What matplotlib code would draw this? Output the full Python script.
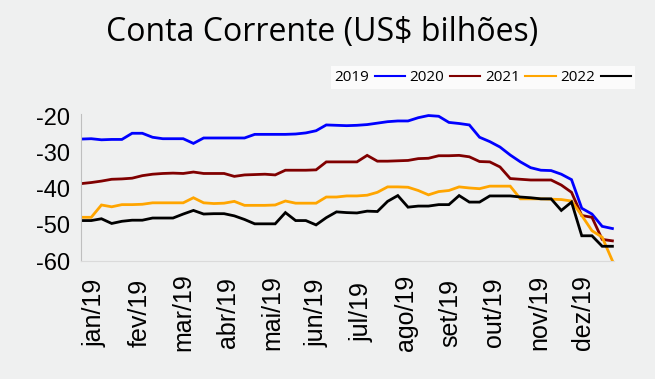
import numpy as np
import matplotlib
matplotlib.use('Agg')
import matplotlib.pyplot as plt

# --- data: weekly readings through 2019 (day of year) ---
days = np.arange(0, 365, 7)

s2019 = [-26.3, -26.2, -26.5, -26.4, -26.4, -24.7, -24.7, -25.8, -26.2, -26.2,
         -26.2, -27.5, -26.0, -26.0, -26.0, -26.0, -26.0, -25.0, -25.0, -25.0,
         -25.0, -24.9, -24.6, -24.0, -22.4, -22.5, -22.6, -22.5, -22.3, -21.9,
         -21.5, -21.3, -21.3, -20.4, -19.8, -20.0, -21.7, -22.0, -22.4, -25.8,
         -27.0, -28.5, -30.7, -32.6, -34.2, -34.9, -35.0, -36.0, -37.5, -45.4,
         -47.0, -50.4, -51.0]
s2020 = [-38.6, -38.3, -37.9, -37.4, -37.3, -37.1, -36.4, -36.0, -35.8, -35.7,
         -35.8, -35.4, -35.8, -35.8, -35.8, -36.6, -36.2, -36.1, -36.0, -36.2,
         -34.9, -34.9, -34.9, -34.8, -32.6, -32.6, -32.6, -32.6, -30.8, -32.4,
         -32.4, -32.3, -32.2, -31.7, -31.6, -30.9, -30.9, -30.8, -31.2, -32.5,
         -32.6, -34.0, -37.2, -37.4, -37.6, -37.6, -37.6, -39.0, -41.0, -47.4,
         -47.9, -54.0, -54.4]
s2021 = [-47.9, -47.9, -44.5, -45.0, -44.4, -44.4, -44.3, -43.9, -43.9, -43.9,
         -43.9, -42.5, -43.9, -44.1, -44.0, -43.5, -44.6, -44.6, -44.6, -44.5,
         -43.4, -44.0, -44.0, -44.0, -42.3, -42.3, -42.0, -42.0, -41.8, -41.0,
         -39.5, -39.5, -39.6, -40.5, -41.7, -40.8, -40.5, -39.5, -39.8, -40.0,
         -39.3, -39.3, -39.3, -42.8, -42.8, -42.8, -42.9, -43.0, -43.4, -47.4,
         -51.6, -53.4, -59.9]
s2022 = [-48.8, -48.8, -48.3, -49.6, -49.0, -48.7, -48.7, -48.1, -48.1, -48.1,
         -47.0, -46.0, -47.0, -46.9, -46.9, -47.5, -48.5, -49.7, -49.7, -49.7,
         -46.6, -48.8, -48.8, -50.0, -48.0, -46.4, -46.6, -46.7, -46.2, -46.3,
         -43.5, -41.9, -45.1, -44.8, -44.8, -44.4, -44.4, -41.9, -43.7, -43.7,
         -42.0, -42.0, -42.0, -42.3, -42.5, -42.8, -42.8, -46.0, -43.7, -53.0,
         -53.0, -55.9, -55.9]

series = {'2019': s2019, '2020': s2020, '2021': s2021, '2022': s2022}
colors = ['#0000ff', '#800000', '#ffa500', '#000000']

month_labels = ['jan/19', 'fev/19', 'mar/19', 'abr/19', 'mai/19', 'jun/19',
                'jul/19', 'ago/19', 'set/19', 'out/19', 'nov/19', 'dez/19']

bg = '#eff0f0'
fig = plt.figure(figsize=(6.55, 3.79), dpi=100, facecolor=bg)
ax = fig.add_axes([0.1237, 0.311, 0.8135, 0.388], facecolor=bg)

for (name, vals), c in zip(series.items(), colors):
    ax.plot(days, vals, color=c, lw=2.0, label=name, solid_joinstyle='miter')

ax.set_xlim(0, 365)
ax.set_ylim(-60, -19.4)
ax.set_yticks([-60, -50, -40, -30, -20])
ax.set_yticklabels(['-60', '-50', '-40', '-30', '-20'],
                   fontsize=17, family='Liberation Sans')
ax.set_xticks(9.6 + 30.4 * np.arange(12))
ax.set_xticklabels(month_labels, rotation=90, va='center', ha='center',
                   fontsize=18, family='Liberation Sans')
ax.tick_params(axis='x', length=0, pad=37)
ax.tick_params(axis='y', length=0, pad=8)

for s in ['top', 'right']:
    ax.spines[s].set_visible(False)
ax.spines['left'].set_color('#bfbfbf')
ax.spines['left'].set_linewidth(0.8)
ax.spines['bottom'].set_color('#dadada')
ax.spines['bottom'].set_linewidth(0.8)

fig.text(0.492, 0.915, 'Conta Corrente (US$ bilhões)', ha='center', va='center',
         fontsize=23, family='Open Sans')

leg = fig.legend(loc='center', bbox_to_anchor=(0.737, 0.205 + 0.0),
                 ncol=4, markerfirst=False, frameon=True, fancybox=False,
                 prop={'family': 'Open Sans', 'size': 11},
                 handlelength=2.0, handletextpad=0.35, columnspacing=0.3,
                 borderpad=0.25)
leg.set_bbox_to_anchor((0.737, 1 - 77.5 / 379), transform=fig.transFigure)
leg.get_frame().set_facecolor('white')
leg.get_frame().set_edgecolor('white')
leg.get_frame().set_linewidth(0)
for line in leg.get_lines():
    line.set_linewidth(1.5)

fig.savefig('out.png', dpi=100, facecolor=bg)
